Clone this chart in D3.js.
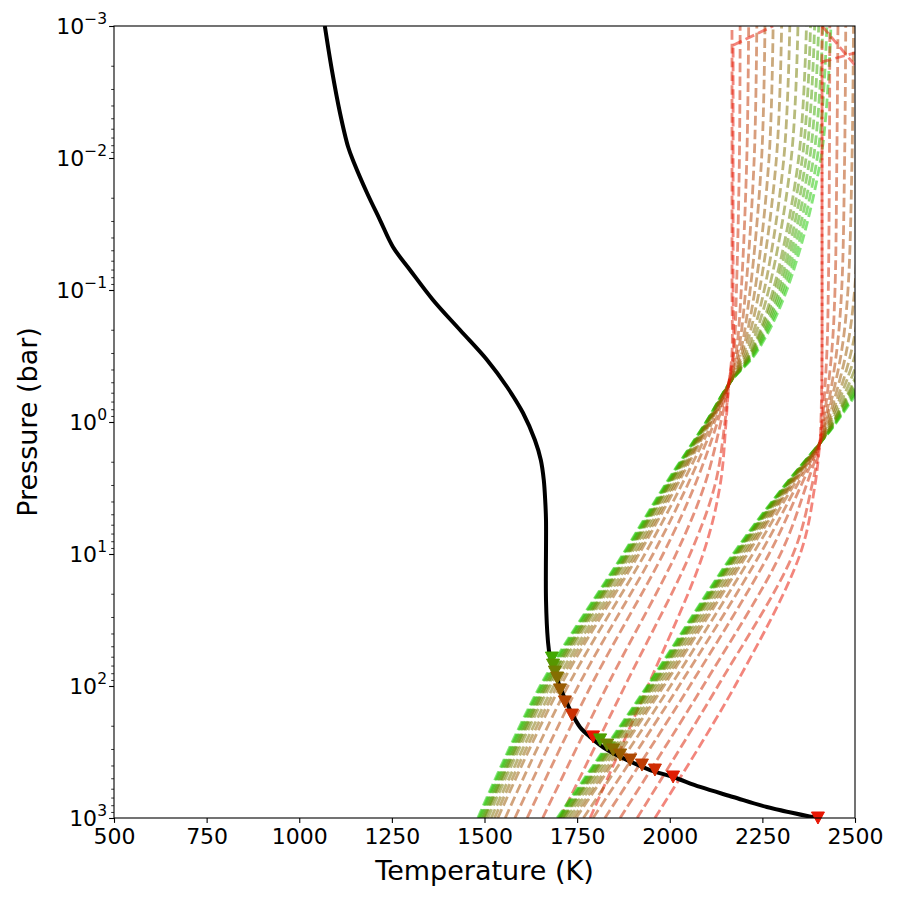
<!DOCTYPE html>
<html>
<head>
<meta charset="utf-8">
<script src="https://d3js.org/d3.v7.min.js"></script>
<style>
  body { margin: 0; background: #fff; }
  text { font-family: "DejaVu Sans", sans-serif; fill: #000; }
</style>
</head>
<body>
<svg width="900" height="900"></svg>
<script>
// ---- axis ticks ----
const tempTicks = [500, 750, 1000, 1250, 1500, 1750, 2000, 2250, 2500];
const pressureTicks = [1e-3, 1e-2, 1e-1, 1, 10, 100, 1000];

// ---- T-P profile (black) ----
const profileT = [1069, 1088, 1110, 1132, 1148, 1183, 1218, 1253, 1299, 1361, 1434, 1507, 1561, 1604, 1636, 1652, 1660, 1664, 1666, 1666, 1671, 1677, 1704, 1731, 1758, 1785, 1831, 1885, 1947, 2009, 2082, 2171, 2262, 2397];
const profileP = [0.001, 0.00215, 0.00456, 0.00826, 0.0109, 0.0184, 0.0295, 0.0472, 0.0705, 0.119, 0.201, 0.339, 0.543, 0.855, 1.37, 1.94, 2.75, 4.0, 5.52, 22.3, 44.9, 60.3, 102, 152, 205, 243, 305, 364, 433, 489, 582, 693, 826, 1000];

// ---- first group of dashed curves ----
const groupOneP = [1000, 100, 10, 3, 1, 0.5, 0.3, 0.1, 0.01, 0.001];
const groupOneT = [
  [1482, 1650, 1874, 1987, 2098, 2163, 2233, 2316, 2408, 2435],
  [1485, 1653, 1876, 1989, 2098, 2163, 2230, 2310, 2398, 2424],
  [1489, 1657, 1879, 1991, 2099, 2163, 2227, 2304, 2388, 2413],
  [1492, 1660, 1882, 1993, 2100, 2163, 2225, 2298, 2378, 2402],
  [1496, 1664, 1885, 1995, 2101, 2163, 2222, 2292, 2368, 2391],
  [1499, 1667, 1887, 1997, 2101, 2163, 2219, 2285, 2358, 2380],
  [1502, 1671, 1890, 1999, 2102, 2163, 2217, 2279, 2348, 2369],
  [1509, 1677, 1895, 2003, 2104, 2163, 2211, 2267, 2328, 2346],
  [1518, 1687, 1903, 2009, 2106, 2163, 2206, 2255, 2308, 2324],
  [1527, 1696, 1910, 2014, 2108, 2163, 2200, 2242, 2288, 2302],
  [1536, 1705, 1917, 2020, 2110, 2163, 2195, 2230, 2268, 2279],
  [1556, 1725, 1933, 2032, 2115, 2160, 2190, 2217, 2248, 2257],
  [1582, 1753, 1955, 2048, 2121, 2160, 2184, 2205, 2228, 2235],
  [1615, 1787, 1982, 2068, 2129, 2160, 2179, 2193, 2208, 2213],
  [1657, 1831, 2017, 2094, 2138, 2160, 2173, 2180, 2188, 2190],
  [1704, 1879, 2055, 2122, 2149, 2160, 2168, 2168, 2168, 2168]
];
const groupOneRedP = [1000, 100, 10, 3, 1, 0.5, 0.3, 0.1, 0.01, 0.0014];
const groupOneRedT = [1785, 1941, 2090, 2136, 2152, 2160, 2171, 2171, 2171, 2171];
const groupOneTailP = [0.0014, 0.001];
const groupOneTailT = [2171, 2279];

// ---- second group of dashed curves ----
const groupTwoP = [1000, 100, 10, 3, 1.45, 1, 0.3, 0.1, 0.01, 0.001];
const groupTwoT = [
  [1696, 1939, 2171, 2311, 2405, 2451, 2567, 2621, 2654, 2667],
  [1699, 1941, 2173, 2312, 2405, 2449, 2560, 2612, 2644, 2656],
  [1702, 1944, 2176, 2313, 2405, 2448, 2554, 2604, 2634, 2646],
  [1705, 1947, 2178, 2314, 2405, 2446, 2547, 2595, 2623, 2635],
  [1709, 1950, 2180, 2315, 2405, 2444, 2541, 2586, 2613, 2625],
  [1712, 1953, 2182, 2316, 2405, 2442, 2534, 2577, 2603, 2614],
  [1715, 1956, 2185, 2318, 2405, 2441, 2528, 2569, 2593, 2603],
  [1722, 1962, 2190, 2320, 2405, 2437, 2515, 2551, 2573, 2582],
  [1730, 1969, 2197, 2323, 2405, 2433, 2502, 2534, 2553, 2560],
  [1739, 1977, 2203, 2326, 2405, 2430, 2489, 2516, 2532, 2539],
  [1747, 1984, 2210, 2329, 2405, 2426, 2476, 2499, 2512, 2518],
  [1767, 2002, 2224, 2335, 2405, 2422, 2463, 2481, 2492, 2496],
  [1793, 2025, 2244, 2344, 2405, 2419, 2450, 2464, 2472, 2475],
  [1825, 2054, 2268, 2355, 2405, 2415, 2437, 2446, 2451, 2454],
  [1866, 2090, 2299, 2369, 2405, 2412, 2424, 2428, 2431, 2432],
  [1912, 2130, 2333, 2384, 2405, 2408, 2411, 2411, 2411, 2411]
];
const groupTwoRedP = [1000, 100, 10, 3, 1.45, 1, 0.3, 0.01, 0.00187];
const groupTwoRedT = [1960, 2176, 2352, 2392, 2405, 2410, 2411, 2411, 2411];
const groupTwoTailP = [0.00187, 0.0016, 0.0015];
const groupTwoTailT = [2411, 2500, 2540];
const groupTwoReturnP = [0.001, 0.0027];
const groupTwoReturnT = [2411, 2540];

// ---- triangle markers on the profile ----
const markerT = [1682, 1685, 1690, 1696, 1704, 1717, 1736, 1793, 1812, 1831, 1847, 1866, 1893, 1925, 1960, 2009, 2400];
const markerP = [61.4, 69.4, 78.4, 87, 107, 132, 166, 243, 256, 280, 305, 333, 364, 397, 433, 489, 1000];
const markerShade = [0.2, 0.3, 0.42, 0.52, 0.62, 0.74, 0.86, 1, 0.25, 0.4, 0.52, 0.62, 0.72, 0.8, 0.88, 0.96, 1];

// ---- layout ----
const svg = d3.select("svg");
const plotL = 114, plotR = 855, plotT = 26, plotB = 818;
const x = d3.scaleLinear().domain([500, 2500]).range([plotL, plotR]);
const y = d3.scaleLog().domain([1e-3, 1e3]).range([plotT, plotB]);
const shade = d3.scaleLinear().domain([0, 1])
  .range(["rgb(25,205,0)", "rgb(232,22,4)"]);

svg.append("defs").append("clipPath").attr("id", "plotclip")
  .append("rect")
  .attr("x", plotL).attr("y", plotT)
  .attr("width", plotR - plotL).attr("height", plotB - plotT);

const plot = svg.append("g").attr("clip-path", "url(#plotclip)");

const smooth = d3.line()
  .x(d => x(d[0])).y(d => y(d[1]))
  .curve(d3.curveCatmullRom.alpha(0.5));
const straight = d3.line()
  .x(d => x(d[0])).y(d => y(d[1]));

function curves(Ts, Ps, redT, redP) {
  const list = Ts.map((row, i) => ({ pts: row.map((t, j) => [t, Ps[j]]), s: i / Ts.length }));
  list.push({ pts: redT.map((t, j) => [t, redP[j]]), s: 1 });
  return list;
}

const groupOne = curves(groupOneT, groupOneP, groupOneRedT, groupOneRedP);
const groupTwo = curves(groupTwoT, groupTwoP, groupTwoRedT, groupTwoRedP);

function dashStyle(sel, s) {
  return sel.attr("fill", "none")
    .attr("stroke", typeof s === "function" ? s : shade(s))
    .attr("stroke-opacity", 0.52)
    .attr("stroke-width", 2.8)
    .attr("stroke-dasharray", "9.6,4.2");
}

function drawDashed(list) {
  plot.selectAll(null).data(list).enter().append("path")
    .attr("d", d => smooth(d.pts))
    .call(dashStyle, d => shade(d.s));
}
drawDashed(groupOne);
drawDashed(groupTwo);

// short straight tails of the reddest curves near the top
[[groupOneTailT, groupOneTailP], [groupTwoTailT, groupTwoTailP], [groupTwoReturnT, groupTwoReturnP]]
  .forEach(([ts, ps]) => {
    plot.append("path")
      .attr("d", straight(ts.map((t, j) => [t, ps[j]])))
      .call(dashStyle, 1);
  });

// black profile
plot.append("path")
  .attr("d", smooth(profileT.map((t, j) => [t, profileP[j]])))
  .attr("fill", "none")
  .attr("stroke", "#000")
  .attr("stroke-width", 4);

// downward triangles
svg.append("g").selectAll("path")
  .data(markerT.map((t, j) => ({ t: t, p: markerP[j], s: markerShade[j] })))
  .enter().append("path")
  .attr("transform", d => `translate(${x(d.t)},${y(d.p)})`)
  .attr("d", "M-6.5,-6 L6.5,-6 L0,6 Z")
  .attr("fill", d => shade(d.s))
  .attr("stroke", d => shade(d.s))
  .attr("stroke-width", 1);

// ---- axes ----
const xAxis = svg.append("g")
  .attr("transform", `translate(0,${plotB})`)
  .call(d3.axisBottom(x).tickValues(tempTicks).tickFormat(d3.format("d"))
    .tickSize(4.9).tickPadding(5).tickSizeOuter(0));
xAxis.select(".domain").remove();
xAxis.selectAll("line").attr("stroke-width", 1.1);
xAxis.selectAll("text").attr("font-size", 22).attr("font-family", "DejaVu Sans");

const minorP = y.ticks().filter(v => pressureTicks.indexOf(v) < 0);
const yMinor = svg.append("g")
  .attr("transform", `translate(${plotL},0)`)
  .call(d3.axisLeft(y).tickValues(minorP).tickFormat("").tickSize(2.8).tickSizeOuter(0));
yMinor.select(".domain").remove();
yMinor.selectAll("line").attr("stroke-width", 0.8);

const yAxis = svg.append("g")
  .attr("transform", `translate(${plotL},0)`)
  .call(d3.axisLeft(y).tickValues(pressureTicks).tickFormat("").tickSize(4.9).tickSizeOuter(0));
yAxis.select(".domain").remove();
yAxis.selectAll("line").attr("stroke-width", 1.1);

const yLabels = svg.append("g").selectAll("text")
  .data(pressureTicks).enter().append("text")
  .attr("x", 107)
  .attr("y", d => y(d) + 8)
  .attr("text-anchor", "end")
  .attr("font-size", 22);
yLabels.append("tspan").text("10");
yLabels.append("tspan")
  .attr("dy", -10)
  .attr("font-size", 15.5)
  .text(d => {
    const e = Math.round(Math.log10(d));
    return e < 0 ? "\u2212" + (-e) : String(e);
  });

// frame
svg.append("rect")
  .attr("x", plotL).attr("y", plotT)
  .attr("width", plotR - plotL).attr("height", plotB - plotT)
  .attr("fill", "none").attr("stroke", "#000").attr("stroke-width", 1.1);

// axis titles
svg.append("text")
  .attr("x", (plotL + plotR) / 2).attr("y", 880)
  .attr("text-anchor", "middle").attr("font-size", 27)
  .text("Temperature (K)");
svg.append("text")
  .attr("transform", `translate(37,${(plotT + plotB) / 2}) rotate(-90)`)
  .attr("text-anchor", "middle").attr("font-size", 27)
  .text("Pressure (bar)");
</script>
</body>
</html>
